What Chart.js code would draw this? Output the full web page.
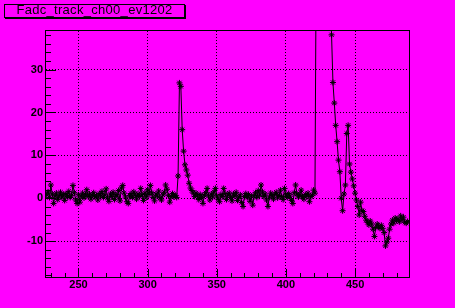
<!DOCTYPE html>
<html>
<head>
<meta charset="utf-8">
<script src="https://cdn.jsdelivr.net/npm/chart.js@4.4.1/dist/chart.umd.min.js"></script>
<style>
html, body { margin: 0; padding: 0; background: #ff00ff; }
#wrap { position: relative; width: 455px; height: 308px; }
#title {
  position: absolute; left: 4px; top: 4px; width: 179px; height: 12px;
  border: 1px solid #000; box-shadow: 1px 1px 0 #000;
  font: 13px "Liberation Sans", Arial, sans-serif; letter-spacing: 0.3px;
  line-height: 10px; text-align: center; color: #000;
}
</style>
</head>
<body>
<div id="wrap">
  <canvas id="c" width="455" height="308"></canvas>
  <div id="title">Fadc_track_ch00_ev1202</div>
</div>
<script>
// fadc samples, one per time bin starting at firstSample
const firstSample = 227;

// 227 - 320 baseline
const baselineA = [
  0.8, 1.5, 0.2, 3.1, 1.0, -1.2, 0.5, 1.2, -0.3, 0.6,
  1.4, 0.3, 0.9, -0.5, 1.1, 0.4, 1.6, 0.2, 0.7, 3.0,
  1.3, -0.4, -1.2, 0.8, -0.9, 0.5, 1.2, 0.1, 0.9, 2.0,
  0.4, 1.0, -0.2, 0.7, 1.3, 0.3, 0.6, -0.4, 1.1, 0.5,
  1.6, 0.2, 0.8, 2.2, 0.1, -0.7, 1.0, 0.4, 1.4, -0.3,
  0.9, 0.5, 1.8, -0.6, 2.4, 3.0, 1.2, 0.3, -0.8, -1.2,
  0.6, 1.1, 0.2, 1.5, 0.7, -0.2, 1.0, 0.4, 2.3, 0.8,
  -0.5, 1.2, 0.3, 2.0, 0.9, 3.0, 1.3, 0.2, -0.6, 1.0,
  0.5, 1.7, 0.1, -0.4, 0.8, 1.4, 3.1, 2.1, 0.6, -0.9,
  0.4, 1.1, 0.3, 0.7
];
// 321 - 332 first pulse
const pulseA = [0.2, 5.2, 26.9, 26.1, 16.0, 11.0, 7.8, 6.6, 5.4, 3.5, 2.4, 1.8];
// 333 - 420 baseline
const baselineB = [
  1.2, 0.4, 1.2, 0.6, -0.3, 0.9, 0.2, -1.2, 0.7, 1.3,
  2.3, 0.5, -0.4, 1.0, 0.3, 1.5, 2.3, 0.6, -0.2, -0.8,
  0.9, 0.4, 2.3, 1.1, -0.3, 0.7, 1.2, 0.2, -0.6, 1.0,
  0.5, 1.4, -0.5, 0.3, 0.8, -1.0, -1.9, 0.4, 1.1, 0.2,
  0.9, -0.7, 0.5, -1.6, 0.6, 1.3, 0.2, 1.8, 0.7, 3.1,
  1.5, 0.4, 1.0, -0.4, -1.9, 0.3, 1.2, 0.6, -0.2, 0.9,
  1.4, 0.1, 0.7, 1.9, 0.4, -0.3, 2.3, 0.8, 0.2, 1.1,
  0.5, -0.5, -1.2, 1.3, 3.1, 1.0, 0.3, 0.8, 1.9, 0.4,
  -0.2, 0.9, 0.5, 1.2, -0.8, 0.4, 0.7, 1.9
];
// 421 - 488 big (saturated) pulse and undershoot
const pulseB = [
  1.2,
  62, 98, 121, 127, 122, 110, 96, 82, 68, 56, 46,
  38.1, 27.0, 22.2, 17.0, 13.2, 8.9, 6.2, 0.0, -2.9,
  1.0, 3.1, 15.1, 17.0, 8.0, 6.1, 4.5, 2.9, 1.2, -0.4,
  -1.9, -3.9, -0.9, -2.9, -3.1, -4.2, -5.1, -5.6, -6.2, -5.3,
  -6.0, -7.2, -8.9, -6.8, -6.0, -6.5, -7.0, -6.3, -7.0, -8.0,
  -11.1, -10.2, -9.3, -7.2, -6.0, -5.1, -5.8, -4.6, -5.1, -4.8,
  -5.5, -4.1, -5.0, -4.4, -5.6, -5.8, -5.4
];

const xTicks = [250, 300, 350, 400, 450];
const yTicks = [-10, 0, 10, 20, 30];

const adcCounts = baselineA.concat(pulseA, baselineB, pulseB);
const points = adcCounts.map((v, i) => ({ x: firstSample + i, y: v }));

// ROOT style ticks inside the frame + the frame itself
const rootFrame = {
  id: 'rootFrame',
  afterDatasetsDraw(chart) {
    const { ctx, chartArea: a, scales: { x, y } } = chart;
    ctx.save();
    ctx.strokeStyle = '#000';
    ctx.lineWidth = 1;
    ctx.setLineDash([]);
    ctx.beginPath();
    for (let v = Math.ceil(x.min / 10) * 10; v <= x.max; v += 10) {
      const px = Math.round(x.getPixelForValue(v)) + 0.5;
      const len = v % 50 === 0 ? 8 : 4;
      ctx.moveTo(px, a.bottom);
      ctx.lineTo(px, a.bottom - len);
    }
    for (let v = Math.ceil(y.min / 2) * 2; v <= y.max; v += 2) {
      const py = Math.round(y.getPixelForValue(v)) + 0.5;
      const len = v % 10 === 0 ? 10 : 5;
      ctx.moveTo(a.left, py);
      ctx.lineTo(a.left + len, py);
    }
    ctx.stroke();
    ctx.strokeRect(a.left - 0.5, a.top - 0.5, a.right - a.left + 1, a.bottom - a.top + 1);
    ctx.restore();
  }
};

const tickFont = { family: '"Liberation Sans", Arial, sans-serif', size: 11, weight: 'bold' };

new Chart(document.getElementById('c'), {
  type: 'scatter',
  data: {
    datasets: [{
      data: points,
      showLine: true,
      borderColor: '#000',
      borderWidth: 1,
      tension: 0,
      pointStyle: 'star',
      pointRadius: 3,
      pointBorderColor: '#000',
      pointBorderWidth: 1,
      pointHoverRadius: 3
    }]
  },
  options: {
    responsive: false,
    animation: false,
    devicePixelRatio: 1,
    layout: { padding: { top: 31, right: 46, left: 0, bottom: 0 } },
    plugins: { legend: { display: false }, tooltip: { enabled: false } },
    events: [],
    scales: {
      x: {
        type: 'linear',
        min: 226.5,
        max: 489,
        afterFit: s => { s.height = 31; },
        afterBuildTicks: s => { s.ticks = xTicks.map(v => ({ value: v })); },
        grid: { color: '#000', lineWidth: 1, drawTicks: false },
        border: { display: false, dash: [1, 2] },
        ticks: { color: '#000', font: tickFont, padding: 1, maxRotation: 0 }
      },
      y: {
        type: 'linear',
        min: -18.35,
        max: 39.0,
        afterFit: s => { s.width = 46; },
        afterBuildTicks: s => { s.ticks = yTicks.map(v => ({ value: v })); },
        grid: { color: '#000', lineWidth: 1, drawTicks: false },
        border: { display: false, dash: [1, 2] },
        ticks: { color: '#000', font: tickFont, padding: 3 }
      }
    }
  },
  plugins: [rootFrame]
});
</script>
</body>
</html>
